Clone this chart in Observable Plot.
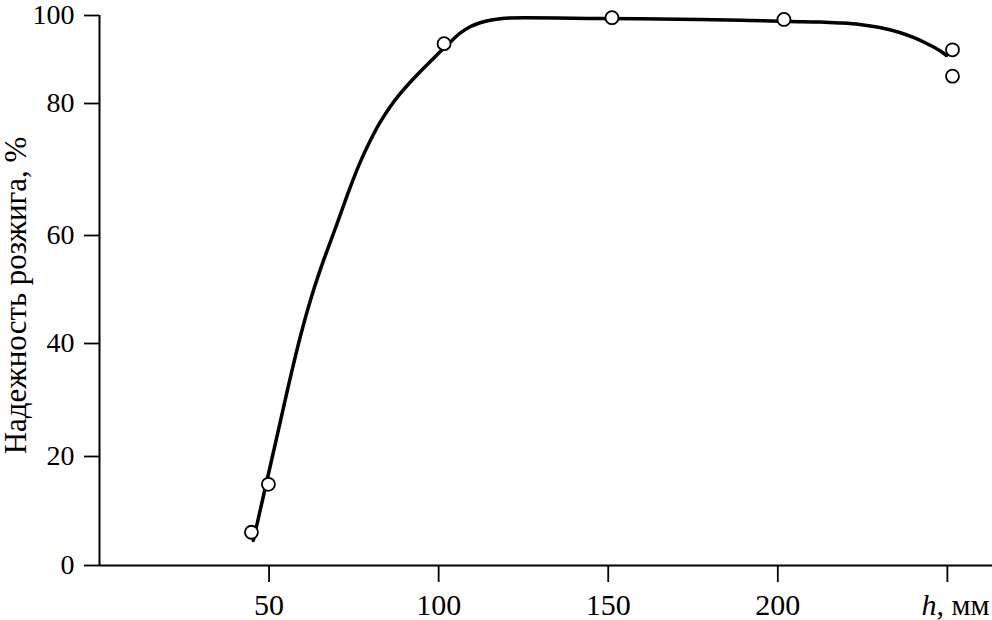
<!DOCTYPE html>
<html>
<head>
<meta charset="utf-8">
<script src="https://cdn.jsdelivr.net/npm/d3@7"></script>
<script src="https://cdn.jsdelivr.net/npm/@observablehq/plot@0.6"></script>
<style>
  html, body { margin: 0; padding: 0; background: #fff; }
</style>
</head>
<body>
<div id="chart"></div>
<script>
// Measured points (h, мм ; reliability, %)
const pointH = [44.8, 49.8, 101.6, 151.1, 201.8, 251.5, 251.5];
const pointR = [6.1, 14.9, 93.6, 99.5, 99.1, 92.2, 86.2];

// Fitted curve
const curveH = [45.36, 48.3, 51.25, 54.19, 56.26, 59.2, 62.15, 65.1, 69.52, 73.94, 76.87, 79.82, 82.76, 85.71, 88.65, 91.6, 94.54, 97.49, 100.43, 103.38, 106.32, 109.27, 112.21, 115.16, 118.11, 121.05, 147.56, 177.0, 191.74, 203.5, 212.36, 218.25, 224.14, 230.03, 235.92, 240.34, 244.75, 247.7, 249.76];
const curveR = [4.59, 12.66, 20.71, 28.5, 33.95, 41.26, 47.93, 53.67, 61.06, 67.32, 71.11, 74.36, 77.17, 79.52, 82.23, 84.84, 87.23, 89.5, 91.77, 93.93, 95.98, 97.45, 98.36, 98.93, 99.27, 99.43, 99.32, 99.09, 98.86, 98.64, 98.52, 98.3, 97.95, 97.27, 96.14, 94.89, 93.3, 92.05, 90.91];

// Tick labels
const xTicks = [50, 100, 150, 200, 250];
const xTickLabels = ["50", "100", "150", "200", "h, мм"];
const yTicks = [0, 20, 40, 60, 80, 100];
const yLabel = "Надежность розжига, %";

const points = pointH.map((h, i) => ({h, r: pointR[i]}));
const curve = curveH.map((h, i) => ({h, r: curveR[i]}));

const font = "'Liberation Serif', 'Times New Roman', serif";

const chart = Plot.plot({
  width: 992,
  height: 620,
  marginLeft: 99,
  marginRight: 0,
  marginTop: 15,
  marginBottom: 55,
  style: {fontFamily: font, background: "#fff", color: "#000", overflow: "visible"},
  x: {domain: [0, 263.3]},
  y: {type: "linear", domain: yTicks, range: [565, 456, 343, 235, 103, 15]},
  marks: [
    Plot.axisX({
      ticks: xTicks,
      tickFormat: (d) => xTickLabels[xTicks.indexOf(d)],
      tickSize: 17,
      tickPadding: 11,
      strokeWidth: 1.8,
      fontSize: 30,
      label: null
    }),
    Plot.axisY({
      ticks: yTicks,
      tickSize: 15,
      tickPadding: 10,
      strokeWidth: 1.8,
      fontSize: 28,
      label: null
    }),
    Plot.ruleX([0], {stroke: "#000", strokeWidth: 2}),
    Plot.ruleY([0], {stroke: "#000", strokeWidth: 2}),
    Plot.text([yLabel], {
      frameAnchor: "left",
      textAnchor: "middle",
      lineAnchor: "middle",
      rotate: -90,
      dx: -83,
      dy: 5,
      fontSize: 31,
      fill: "#000"
    }),
    Plot.line(curve, {x: "h", y: "r", stroke: "#000", strokeWidth: 3.5, curve: "catmull-rom"}),
    Plot.dot(points, {x: "h", y: "r", r: 6.5, fill: "#fff", stroke: "#000", strokeWidth: 1.8})
  ]
});

// Italic "h" in the last x tick label
d3.select(chart).selectAll("text").each(function () {
  const t = d3.select(this);
  if (this.textContent === "h, мм") {
    this.textContent = "";
    t.append("tspan").attr("dx", 8).attr("font-style", "italic").text("h");
    t.append("tspan").text(", мм");
  }
});

document.getElementById("chart").appendChild(chart);
</script>
</body>
</html>
